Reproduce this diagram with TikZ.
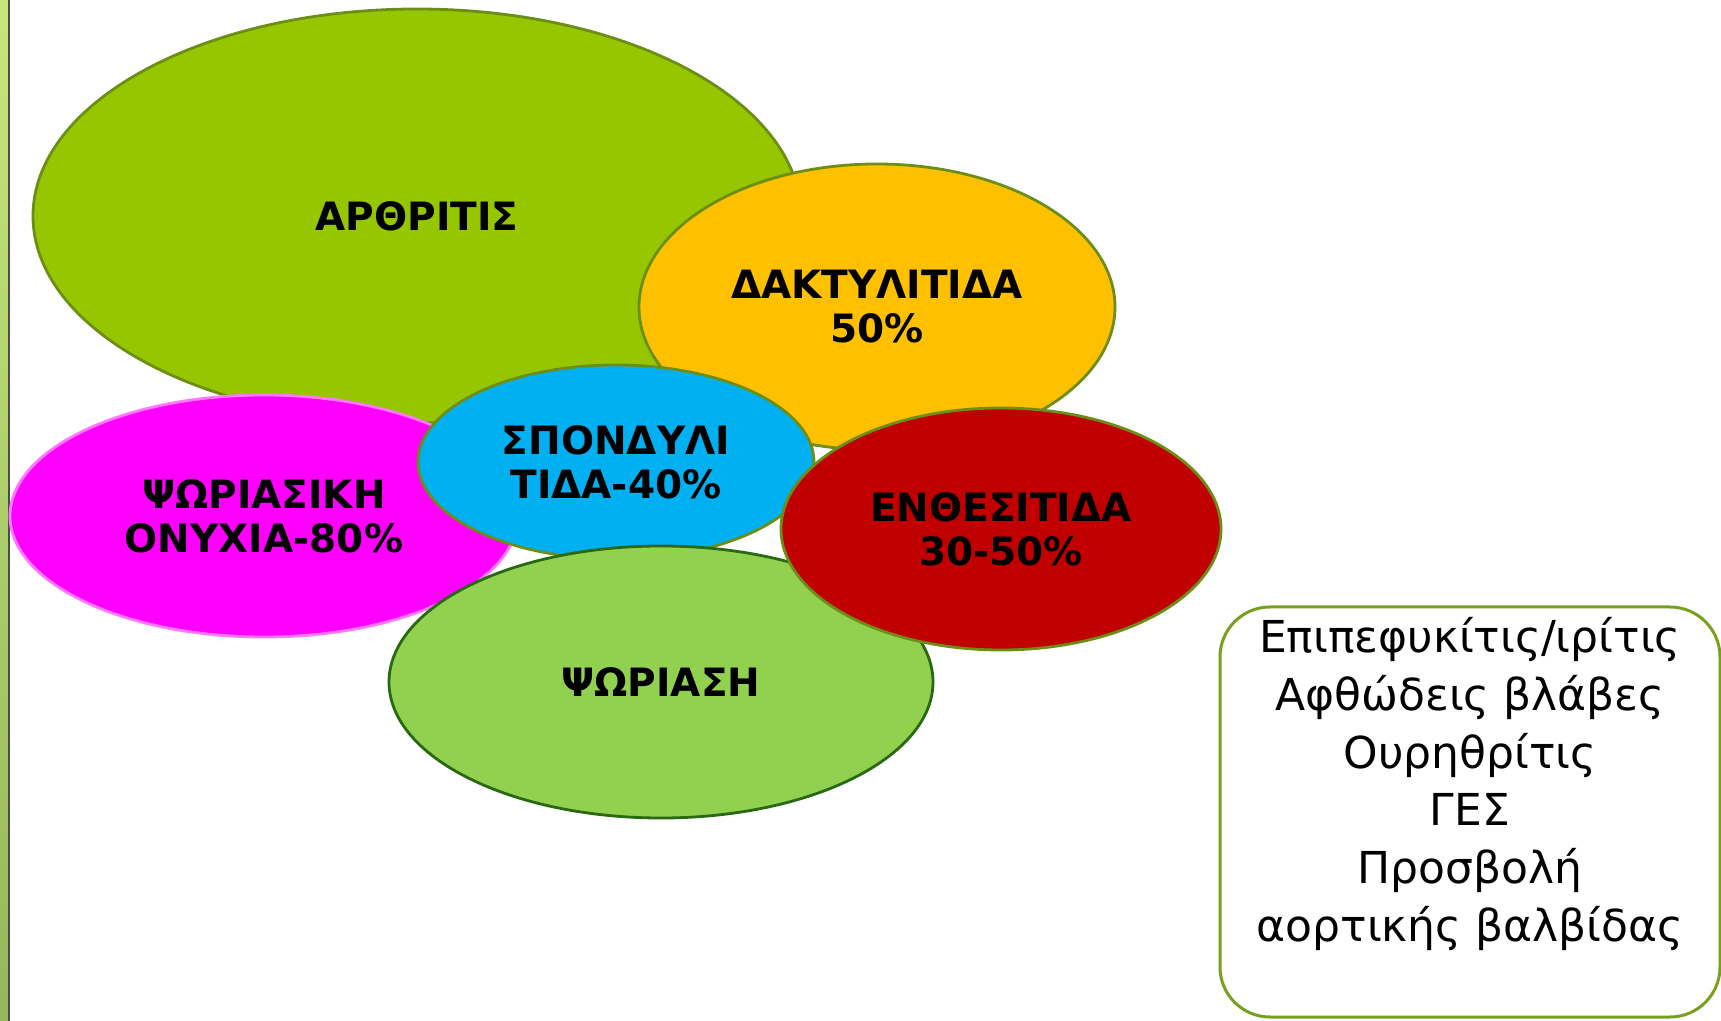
\documentclass[tikz,border=0pt]{standalone}
\usepackage{fontspec}
\setmainfont{DejaVu Sans}
\usetikzlibrary{shapes.geometric}
\usetikzlibrary{positioning}

\definecolor{arthfill}{RGB}{150,198,0}
\definecolor{olive}{RGB}{108,142,20}
\definecolor{dactfill}{RGB}{255,192,0}
\definecolor{nailfill}{RGB}{255,0,255}
\definecolor{naildraw}{RGB}{255,120,255}
\definecolor{spondfill}{RGB}{0,176,240}
\definecolor{enthfill}{RGB}{192,0,0}
\definecolor{psorfill}{RGB}{146,208,80}
\definecolor{psordraw}{RGB}{40,105,18}
\definecolor{boxdraw}{RGB}{118,160,30}
\definecolor{stripetop}{RGB}{196,230,122}
\definecolor{stripebottom}{RGB}{150,182,92}

\begin{document}
\begin{tikzpicture}[x=0.5pt, y=-0.5pt,
    blob/.style={ellipse, inner sep=0pt, align=center, line width=1.4pt, draw=olive,
        font=\bfseries\fontsize{19.5}{22}\selectfont}]
    \useasboundingbox (0,0) rectangle (1721,1021);
    % left stripe of the slide
    \shade [top color=stripetop, bottom color=stripebottom] (0,0) rectangle (8,1021);
    \draw [line width=0.9pt, black!70] (9,0) -- (9,1021);

    \node (arthritis) [blob, fill=arthfill, minimum width=384pt, minimum height=207pt] at (417,216) {ΑΡΘΡΙΤΙΣ};
    \node (dactylitis) [blob, fill=dactfill, minimum width=238pt, minimum height=143pt] at (877,307) {ΔΑΚΤΥΛΙΤΙΔΑ\\50\%};
    \node (nails) [blob, fill=nailfill, draw=naildraw, minimum width=254pt, minimum height=121pt] at (264,516) {ΨΩΡΙΑΣΙΚΗ\\ΟΝΥΧΙΑ-80\%};
    \node (spondylitis) [blob, fill=spondfill, minimum width=198pt, minimum height=97pt] at (616,462) {ΣΠΟΝΔΥΛΙ\\ΤΙΔΑ-40\%};
    \node (psoriasis) [blob, fill=psorfill, draw=psordraw, minimum width=272pt, minimum height=136pt] at (661,682) {ΨΩΡΙΑΣΗ};
    \node (enthesitis) [blob, fill=enthfill, minimum width=220pt, minimum height=121pt] at (1001,529) {ΕΝΘΕΣΙΤΙΔΑ\\30-50\%};

    \node (otherbox) [rectangle, rounded corners=25pt, draw=boxdraw, line width=1.5pt, fill=white,
        minimum width=250pt, minimum height=205pt] at (1470,812) {};
    \node (other) [align=center, inner sep=0pt, font=\fontsize{22}{28.9}\selectfont] at (1470,784) {
        Επιπεφυκίτις/ιρίτις\\
        Αφθώδεις βλάβες\\
        Ουρηθρίτις\\
        ΓΕΣ\\
        Προσβολή\\
        αορτικής βαλβίδας
    };
\end{tikzpicture}
\end{document}
